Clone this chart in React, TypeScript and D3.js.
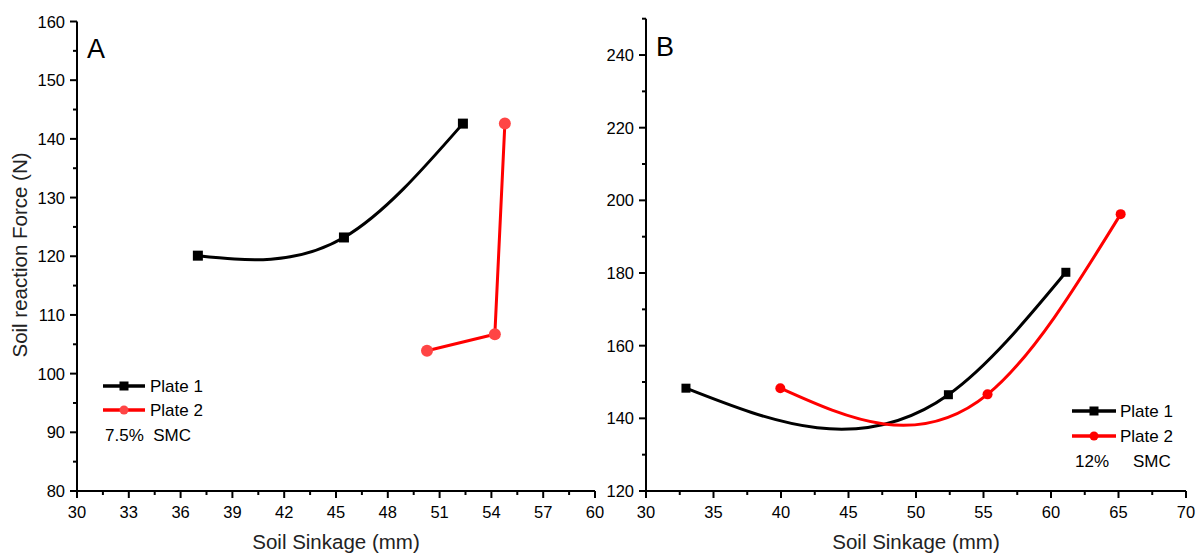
import React from "react";
import * as d3 from "d3";

// ---- Data ----
const a_plate1_x = [37.0, 45.46, 52.35];
const a_plate1_y = [120.1, 123.2, 142.6];
const a_plate2_x = [50.27, 54.2, 54.78];
const a_plate2_y = [103.9, 106.7, 142.6];

const b_plate1_x = [32.96, 52.4, 61.1];
const b_plate1_y = [148.3, 146.5, 180.2];
const b_plate2_x = [39.95, 55.3, 65.16];
const b_plate2_y = [148.3, 146.6, 196.2];

const a_xTicks = [30, 33, 36, 39, 42, 45, 48, 51, 54, 57, 60];
const a_yTicks = [80, 90, 100, 110, 120, 130, 140, 150, 160];
const b_xTicks = [30, 35, 40, 45, 50, 55, 60, 65, 70];
const b_yTicks = [120, 140, 160, 180, 200, 220, 240];

const legendLabels = ["Plate 1", "Plate 2"];

// natural cubic spline with x as parameter, emitted as exact beziers
class NaturalX {
  _ctx: any; _x: number[] = []; _y: number[] = [];
  constructor(ctx: any) { this._ctx = ctx; }
  areaStart() {}
  areaEnd() {}
  lineStart() { this._x = []; this._y = []; }
  point(x: number, y: number) { this._x.push(+x); this._y.push(+y); }
  lineEnd() {
    const xs = this._x, ys = this._y, n = xs.length, c = this._ctx;
    if (!n) return;
    c.moveTo(xs[0], ys[0]);
    if (n === 2) { c.lineTo(xs[1], ys[1]); return; }
    const h: number[] = [];
    for (let i = 0; i < n - 1; i++) h.push(xs[i + 1] - xs[i]);
    // solve tridiagonal for M (second derivatives), natural BC
    const M = new Array(n).fill(0);
    const a: number[] = [], b: number[] = [], cc: number[] = [], r: number[] = [];
    for (let i = 1; i < n - 1; i++) {
      a.push(h[i - 1]); b.push(2 * (h[i - 1] + h[i])); cc.push(h[i]);
      r.push(6 * ((ys[i + 1] - ys[i]) / h[i] - (ys[i] - ys[i - 1]) / h[i - 1]));
    }
    const m = b.length;
    for (let i = 1; i < m; i++) {
      const w = a[i] / b[i - 1];
      b[i] -= w * cc[i - 1];
      r[i] -= w * r[i - 1];
    }
    const sol = new Array(m).fill(0);
    for (let i = m - 1; i >= 0; i--) sol[i] = (r[i] - (i < m - 1 ? cc[i] * sol[i + 1] : 0)) / b[i];
    for (let i = 0; i < m; i++) M[i + 1] = sol[i];
    for (let i = 0; i < n - 1; i++) {
      const hh = h[i];
      const s = (ys[i + 1] - ys[i]) / hh;
      const dL = s - hh * (2 * M[i] + M[i + 1]) / 6;
      const dR = s + hh * (M[i] + 2 * M[i + 1]) / 6;
      c.bezierCurveTo(xs[i] + hh / 3, ys[i] + dL * hh / 3, xs[i + 1] - hh / 3, ys[i + 1] - dR * hh / 3, xs[i + 1], ys[i + 1]);
    }
  }
}
const curveNaturalX = (ctx: any) => new NaturalX(ctx);

const FONT = "'Liberation Sans', Arial, sans-serif";

type Series = { xs: number[]; ys: number[]; color: string; mfill: string; marker: "square" | "circle"; smooth: boolean; msize: number };

function Panel(props: {
  xDomain: [number, number]; xRange: [number, number];
  yDomain: [number, number]; yRange: [number, number];
  xTicks: number[]; xMinorStep: number; yTicks: number[]; yMinorStep: number;
  series: Series[]; letter: string; letterPos: [number, number];
}) {
  const x = d3.scaleLinear().domain(props.xDomain).range(props.xRange);
  const y = d3.scaleLinear().domain(props.yDomain).range(props.yRange);
  const x0 = props.xRange[0], x1 = props.xRange[1];
  const y0 = props.yRange[0], y1 = props.yRange[1];
  const xMinor = d3.range(props.xDomain[0], props.xDomain[1] + 1e-9, props.xMinorStep).filter(v => !props.xTicks.some(t => Math.abs(t - v) < 1e-6));
  const yMinor = d3.range(props.yDomain[0], props.yDomain[1] + 1e-9, props.yMinorStep).filter(v => !props.yTicks.some(t => Math.abs(t - v) < 1e-6));
  return (
    <g>
      {props.series.map((s, i) => {
        const pts = s.xs.map((v, k) => [v, s.ys[k]] as [number, number]);
        const line = d3.line<[number, number]>().x(d => x(d[0])).y(d => y(d[1])).curve(s.smooth ? (curveNaturalX as any) : d3.curveLinear);
        return (
          <g key={i}>
            <path d={line(pts) || ""} fill="none" stroke={s.color} strokeWidth={3} strokeLinejoin="round" />
            {pts.map((p, k) => s.marker === "square" ? (
              <rect key={k} x={x(p[0]) - s.msize / 2} y={y(p[1]) - s.msize / 2} width={s.msize} height={s.msize} fill={s.mfill} />
            ) : (
              <circle key={k} cx={x(p[0])} cy={y(p[1])} r={s.msize / 2} fill={s.mfill} />
            ))}
          </g>
        );
      })}
      {/* axes */}
      <line x1={x0} y1={y0} x2={x1} y2={y0} stroke="#000" strokeWidth={2} />
      <line x1={x0} y1={y0 + 1} x2={x0} y2={y1} stroke="#000" strokeWidth={2} />
      {props.xTicks.map(t => (
        <g key={"xt" + t}>
          <line x1={x(t)} x2={x(t)} y1={y0} y2={y0 + 7} stroke="#000" strokeWidth={2} />
          <text x={x(t)} y={y0 + 27} textAnchor="middle" fontSize={16.5} fontFamily={FONT}>{t}</text>
        </g>
      ))}
      {xMinor.map(t => <line key={"xm" + t} x1={x(t)} x2={x(t)} y1={y0} y2={y0 + 4} stroke="#000" strokeWidth={2} />)}
      {props.yTicks.map(t => (
        <g key={"yt" + t}>
          <line x1={x0 - 7} x2={x0} y1={y(t)} y2={y(t)} stroke="#000" strokeWidth={2} />
          <text x={x0 - 12} y={y(t) + 6} textAnchor="end" fontSize={16.5} fontFamily={FONT}>{t}</text>
        </g>
      ))}
      {yMinor.map(t => <line key={"ym" + t} x1={x0 - 4} x2={x0} y1={y(t)} y2={y(t)} stroke="#000" strokeWidth={2} />)}
      <text x={props.letterPos[0]} y={props.letterPos[1]} fontSize={27} fontFamily={FONT}>{props.letter}</text>
      <text x={(x0 + x1) / 2} y={549} textAnchor="middle" fontSize={20.5} fontFamily={FONT} fill="#222">Soil Sinkage (mm)</text>
    </g>
  );
}

function Legend(props: { x0: number; x1: number; ys: number[]; colors: string[]; mfills: string[]; textX: number; sizes: number[] }) {
  const mid = (props.x0 + props.x1) / 2;
  return (
    <g>
      {legendLabels.map((lab, i) => (
        <g key={lab}>
          <line x1={props.x0} x2={props.x1} y1={props.ys[i]} y2={props.ys[i]} stroke={props.colors[i]} strokeWidth={3.5} />
          {i === 0 ? (
            <rect x={mid - props.sizes[0] / 2} y={props.ys[i] - props.sizes[0] / 2} width={props.sizes[0]} height={props.sizes[0]} fill={props.mfills[i]} />
          ) : (
            <circle cx={mid} cy={props.ys[i]} r={props.sizes[1] / 2} fill={props.mfills[i]} />
          )}
          <text x={props.textX} y={props.ys[i] + 6} fontSize={17} fontFamily={FONT}>{lab}</text>
        </g>
      ))}
    </g>
  );
}

export default function App() {
  const seriesA: Series[] = [
    { xs: a_plate1_x, ys: a_plate1_y, color: "#000", mfill: "#000", marker: "square", smooth: true, msize: 10 },
    { xs: a_plate2_x, ys: a_plate2_y, color: "#ff0000", mfill: "#ff4545", marker: "circle", smooth: false, msize: 12 },
  ];
  const seriesB: Series[] = [
    { xs: b_plate1_x, ys: b_plate1_y, color: "#000", mfill: "#000", marker: "square", smooth: true, msize: 9 },
    { xs: b_plate2_x, ys: b_plate2_y, color: "#ff0000", mfill: "#ff0000", marker: "circle", smooth: true, msize: 10 },
  ];
  return (
    <svg width={1199} height={557} style={{ position: "absolute", left: 0, top: 0, background: "#fff" }}>
      <rect width={1199} height={557} fill="#fff" />
      <Panel xDomain={[30, 60]} xRange={[77, 595]} yDomain={[80, 160]} yRange={[491, 21.5]}
        xTicks={a_xTicks} xMinorStep={1.5} yTicks={a_yTicks} yMinorStep={5}
        series={seriesA} letter="A" letterPos={[87, 58]} />
      <Panel xDomain={[30, 70]} xRange={[646, 1186]} yDomain={[120, 250]} yRange={[491, 18.7]}
        xTicks={b_xTicks} xMinorStep={2.5} yTicks={b_yTicks} yMinorStep={10}
        series={seriesB} letter="B" letterPos={[656, 56]} />
      <text transform="translate(27,255) rotate(-90)" textAnchor="middle" fontSize={20.5} fontFamily={FONT} fill="#222">Soil reaction Force (N)</text>
      <Legend x0={103} x1={145} ys={[386, 410]} colors={["#000", "#ff0000"]} mfills={["#000", "#ff4545"]} textX={150} sizes={[9, 9]} />
      <text x={105} y={441} fontSize={17} fontFamily={FONT} style={{ whiteSpace: "pre" }}>7.5%  SMC</text>
      <Legend x0={1072} x1={1116} ys={[411, 436]} colors={["#000", "#ff0000"]} mfills={["#000", "#ff0000"]} textX={1120} sizes={[9, 9]} />
      <text x={1075} y={467} fontSize={17} fontFamily={FONT}>12%</text>
      <text x={1133} y={467} fontSize={17} fontFamily={FONT}>SMC</text>
    </svg>
  );
}
